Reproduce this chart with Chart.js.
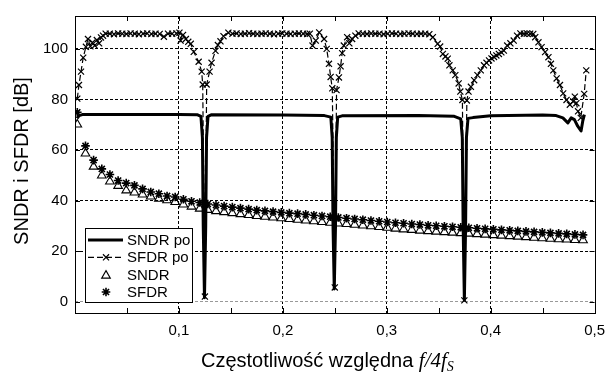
<!DOCTYPE html>
<html>
<head>
<meta charset="utf-8">
<script src="https://cdn.jsdelivr.net/npm/chart.js@4.4.1/dist/chart.umd.min.js"></script>
<style>
  html, body { margin: 0; padding: 0; background: #fff; }
  #wrap { width: 614px; height: 372px; }
</style>
</head>
<body>
<div id="wrap"><canvas id="chart" width="614" height="372"></canvas></div>
<script>
// SNDR po – thick line with three deep notches
const sndrPoX = [0.0020, 0.0040, 0.0070, 0.0500, 0.1000,
  0.1180, 0.1212, 0.1226, 0.1234, 0.1246, 0.1258, 0.1266, 0.1280, 0.1310,
  0.2000, 0.2400, 0.2462, 0.2475, 0.2483, 0.2495, 0.2507, 0.2515, 0.2528, 0.2570,
  0.3300, 0.3650, 0.3712, 0.3727, 0.3735, 0.3747, 0.3759, 0.3767, 0.3782, 0.3830,
  0.4000, 0.4500, 0.4630, 0.4695, 0.4743, 0.4775, 0.4806, 0.4838, 0.4870, 0.4886, 0.4902];
const sndrPoY = [72.5, 73.6, 74.0, 74.0, 74.0,
  73.9, 73.3, 65, 30, 1.5, 30, 65, 73.3, 73.9,
  73.8, 73.6, 73.0, 65, 30, 5, 30, 65, 73.0, 73.5,
  73.6, 73.3, 72.3, 65, 30, 0.5, 30, 65, 72.5, 72.8,
  73.5, 73.8, 73.6, 72.7, 70.7, 72.7, 72.0, 69.4, 67.5, 71.4, 74.0];

// SFDR po – dashed line with x markers
const sfdrPoX = [
  0.0022, 0.0038, 0.0058, 0.0079, 0.0105, 0.0125, 0.0148, 0.0168, 0.0190, 0.0210, 0.0232, 0.0250, 0.0270, 0.0295,
  0.0335, 0.0375, 0.0415, 0.0455, 0.0495, 0.0535, 0.0575, 0.0615, 0.0655, 0.0695, 0.0735, 0.0775, 0.0815, 0.0855, 0.0895, 0.0935, 0.0975,
  0.1005, 0.1016, 0.1040, 0.1067, 0.1090, 0.1114, 0.1143, 0.1190, 0.1219, 0.1229, 0.1250, 0.1267, 0.1295, 0.1314, 0.1352, 0.1375, 0.1400, 0.1429, 0.1476,
  0.1515, 0.1555, 0.1595, 0.1635, 0.1675, 0.1715, 0.1755, 0.1795, 0.1835, 0.1875, 0.1915, 0.1955, 0.1995, 0.2035, 0.2075, 0.2115, 0.2155, 0.2195, 0.2235, 0.2260,
  0.2286, 0.2317, 0.2350, 0.2397, 0.2422, 0.2444, 0.2460, 0.2476, 0.2500, 0.2517, 0.2540, 0.2556, 0.2571, 0.2587, 0.2619, 0.2640, 0.2667, 0.2698, 0.2730,
  0.2770, 0.2810, 0.2850, 0.2890, 0.2930, 0.2970, 0.3010, 0.3050, 0.3090, 0.3130, 0.3170, 0.3210, 0.3250, 0.3290, 0.3330, 0.3370, 0.3410,
  0.3444, 0.3490, 0.3514, 0.3540, 0.3565, 0.3587, 0.3603, 0.3635, 0.3660, 0.3692, 0.3708, 0.3728, 0.3747, 0.3771, 0.3787, 0.3810, 0.3841,
  0.3873, 0.3905, 0.3936, 0.3960, 0.3984, 0.4008, 0.4032, 0.4055, 0.4079, 0.4103, 0.4127, 0.4159, 0.4190, 0.4222, 0.4254, 0.4286,
  0.4320, 0.4350, 0.4380, 0.4410, 0.4429, 0.4460, 0.4490, 0.4524, 0.4556, 0.4580, 0.4603, 0.4635, 0.4667, 0.4698, 0.4730, 0.4762,
  0.4794, 0.4810, 0.4825, 0.4841, 0.4867, 0.4900, 0.4920];
const sfdrPoY = [
  80.3, 85.7, 91.0, 96.5, 100.8, 103.9, 101.0, 102.5, 101.3, 103.5, 102.2, 104.5, 105.2, 106.0,
  106.0, 105.8, 106.1, 106.0, 105.9, 106.1, 106.0, 105.8, 106.0, 106.1, 105.9, 106.0, 105.9, 104.8, 106.0, 106.0, 106.1,
  106.4, 103.3, 105.5, 103.9, 102.8, 102.0, 98.8, 94.9, 91.0, 85.9, 2.0, 85.9, 91.0, 94.5, 99.2, 101.5, 103.0, 105.0, 106.4,
  106.0, 106.1, 105.9, 106.0, 106.2, 106.0, 105.9, 106.0, 106.1, 106.0, 105.8, 106.0, 106.1, 106.0, 105.9, 106.0, 106.1, 106.0, 105.9, 106.0,
  101.3, 103.3, 106.5, 103.9, 100.0, 94.1, 88.9, 84.4, 5.6, 83.7, 88.7, 93.1, 98.3, 101.3, 104.6, 102.2, 103.9, 105.2, 106.1,
  106.0, 105.9, 106.1, 106.0, 106.0, 105.8, 106.0, 106.1, 106.0, 105.9, 106.0, 106.1, 106.0, 105.9, 106.0, 106.0, 105.8,
  104.6, 102.0, 100.9, 98.0, 97.0, 96.1, 93.5, 91.5, 89.6, 86.3, 83.1, 79.8, 0.5, 79.6, 83.1, 85.0, 87.6,
  89.6, 91.5, 93.5, 94.5, 95.4, 96.2, 96.8, 97.4, 98.0, 98.6, 99.3, 101.3, 102.2, 103.3, 105.2, 106.1,
  106.0, 106.1, 106.0, 105.9, 104.6, 102.6, 100.7, 98.7, 96.7, 94.1, 91.5, 88.3, 85.7, 82.4, 79.8, 77.9,
  79.2, 81.1, 78.5, 75.3, 72.7, 82.2, 91.5];

// SNDR / SFDR before correction – markers only
const freqX = [0.0022, 0.0101, 0.0179, 0.0258, 0.0336, 0.0415, 0.0493, 0.0572, 0.0650, 0.0729,
  0.0807, 0.0886, 0.0964, 0.1043, 0.1121, 0.1200, 0.1278, 0.1357, 0.1435, 0.1514,
  0.1592, 0.1671, 0.1749, 0.1828, 0.1906, 0.1985, 0.2063, 0.2142, 0.2220, 0.2299,
  0.2377, 0.2456, 0.2534, 0.2613, 0.2691, 0.2770, 0.2848, 0.2927, 0.3005, 0.3084,
  0.3162, 0.3241, 0.3319, 0.3398, 0.3476, 0.3555, 0.3633, 0.3712, 0.3790, 0.3869,
  0.3947, 0.4026, 0.4104, 0.4183, 0.4261, 0.4340, 0.4418, 0.4497, 0.4575, 0.4654,
  0.4732, 0.4811, 0.4889];
const sndrY = [70.1, 58.6, 53.4, 49.9, 47.5, 45.8, 44.0, 43.2, 42.4, 41.6,
  40.7, 40.1, 39.4, 38.4, 37.6, 36.8, 36.3, 35.8, 35.4, 35.0,
  34.6, 34.3, 33.9, 33.6, 33.3, 33.0, 32.7, 32.4, 32.1, 31.8,
  31.5, 31.2, 30.9, 30.7, 30.4, 30.1, 29.8, 29.5, 29.2, 28.9,
  28.6, 28.4, 28.1, 27.9, 27.7, 27.5, 27.3, 27.1, 26.9, 26.7,
  26.5, 26.3, 26.1, 25.9, 25.7, 25.5, 25.3, 25.1, 24.9, 24.7,
  24.6, 24.4, 24.3];
const sfdrY = [74.9, 61.6, 56.0, 52.5, 50.3, 47.9, 46.9, 46.0, 44.6, 43.4,
  42.7, 41.8, 41.4, 40.5, 39.7, 39.2, 38.6, 38.2, 37.8, 37.4,
  37.0, 36.6, 36.2, 35.9, 35.6, 35.3, 35.0, 34.8, 34.5, 34.2,
  33.9, 33.6, 33.3, 33.0, 32.7, 32.4, 32.1, 31.8, 31.5, 31.2,
  31.0, 30.7, 30.5, 30.2, 30.0, 29.8, 29.6, 29.4, 29.2, 29.0,
  28.8, 28.6, 28.4, 28.2, 28.0, 27.8, 27.6, 27.4, 27.2, 27.0,
  26.8, 26.6, 26.4];

const xTickValues = [0.1, 0.2, 0.3, 0.4, 0.5];
const xTickLabels = ['0,1', '0,2', '0,3', '0,4', '0,5'];
const yTickValues = [0, 20, 40, 60, 80, 100];
const yTickLabels = ['0', '20', '40', '60', '80', '100'];
const seriesNames = ['SNDR po', 'SFDR po', 'SNDR', 'SFDR'];

const FONT = "'Liberation Sans', Arial, sans-serif";
Chart.defaults.font.family = FONT;
Chart.defaults.color = '#000';

function pts(xs, ys) {
    return xs.map((x, i) => ({ x: x, y: ys[i] }));
}

function near(v, arr) {
    return arr.findIndex(t => Math.abs(t - v) < 1e-6);
}

// frame, inward ticks, legend and axis titles
const decorations = {
    id: 'decorations',
    afterDraw(chart) {
        const ctx = chart.ctx;
        const a = chart.chartArea;
        const xs = chart.scales.x, ys = chart.scales.y;
        ctx.save();
        ctx.strokeStyle = '#000';
        ctx.lineWidth = 1;
        ctx.setLineDash([]);
        ctx.strokeRect(Math.round(a.left) + 0.5, Math.round(a.top) + 0.5,
            Math.round(a.right - a.left), Math.round(a.bottom - a.top));

        // tick marks pointing into the plot
        ctx.beginPath();
        xs.ticks.forEach(t => {
            if (t.value <= 0.001 || t.value >= 0.499) return;
            const px = Math.round(xs.getPixelForValue(t.value)) + 0.5;
            ctx.moveTo(px, a.bottom); ctx.lineTo(px, a.bottom - 5);
            ctx.moveTo(px, a.top); ctx.lineTo(px, a.top + 5);
        });
        ys.ticks.forEach(t => {
            const py = Math.round(ys.getPixelForValue(t.value)) + 0.5;
            ctx.moveTo(a.left, py); ctx.lineTo(a.left + 5, py);
            ctx.moveTo(a.right, py); ctx.lineTo(a.right - 5, py);
        });
        ctx.stroke();

        // legend box
        const lb = { left: 85.5, top: 228.5, right: 192.5, bottom: 302.5 };
        ctx.fillStyle = '#fff';
        ctx.fillRect(lb.left, lb.top, lb.right - lb.left, lb.bottom - lb.top);
        ctx.strokeRect(lb.left, lb.top, lb.right - lb.left, lb.bottom - lb.top);
        const rowY = [240, 257.3, 274.6, 292];
        const sx0 = 88, sx1 = 123, sxm = 106, tx = 127;
        ctx.font = '15px ' + FONT;
        ctx.textBaseline = 'middle';
        ctx.textAlign = 'left';
        ctx.fillStyle = '#000';
        seriesNames.forEach((name, i) => ctx.fillText(name, tx, rowY[i] + 1));

        ctx.lineWidth = 3;
        ctx.beginPath(); ctx.moveTo(sx0, rowY[0]); ctx.lineTo(sx1, rowY[0]); ctx.stroke();
        ctx.lineWidth = 1.2;
        ctx.setLineDash([6, 3]);
        ctx.beginPath(); ctx.moveTo(sx0, rowY[1]); ctx.lineTo(sx1, rowY[1]); ctx.stroke();
        ctx.setLineDash([]);
        ctx.fillStyle = 'rgba(0,0,0,0)';
        Chart.helpers.drawPoint(ctx, { pointStyle: 'crossRot', radius: 4.3, rotation: 0, borderWidth: 1.2 }, sxm, rowY[1]);
        ctx.lineWidth = 1.1;
        Chart.helpers.drawPoint(ctx, { pointStyle: 'triangle', radius: 5, rotation: 0, borderWidth: 1.1 }, sxm, rowY[2] + 1);
        ctx.lineWidth = 1.6;
        Chart.helpers.drawPoint(ctx, { pointStyle: 'star', radius: 4.3, rotation: 0, borderWidth: 1.6 }, sxm, rowY[3]);

        // y axis title
        ctx.fillStyle = '#000';
        ctx.save();
        ctx.translate(22, 161);
        ctx.rotate(-Math.PI / 2);
        ctx.font = '20px ' + FONT;
        ctx.textAlign = 'center';
        ctx.textBaseline = 'middle';
        ctx.fillText('SNDR i SFDR [dB]', 0, 0);
        ctx.restore();

        // x axis title with italic f/4f_S
        ctx.textAlign = 'left';
        ctx.textBaseline = 'alphabetic';
        let x = 201;
        const base = 367;
        ctx.font = '20px ' + FONT;
        const t1 = 'Częstotliwość względna ';
        ctx.fillText(t1, x, base);
        x += ctx.measureText(t1).width;
        ctx.font = "italic 21px 'Liberation Serif', 'Times New Roman', serif";
        ctx.fillText('f/4f', x, base);
        x += ctx.measureText('f/4f').width;
        ctx.font = "italic 14px 'Liberation Serif', 'Times New Roman', serif";
        ctx.fillText('S', x, base + 4);
        ctx.restore();
    }
};

new Chart(document.getElementById('chart'), {
    type: 'line',
    data: {
        datasets: [
            {
                label: seriesNames[0],
                data: pts(sndrPoX, sndrPoY),
                borderColor: '#000',
                borderWidth: 3,
                borderJoinStyle: 'round',
                pointRadius: 0,
                tension: 0
            },
            {
                label: seriesNames[1],
                data: pts(sfdrPoX, sfdrPoY),
                borderColor: '#000',
                borderWidth: 1.2,
                borderDash: [6, 3],
                pointStyle: 'crossRot',
                pointRadius: 4.3,
                pointBorderWidth: 1.2,
                pointBorderColor: '#000',
                pointBackgroundColor: 'rgba(0,0,0,0)',
                tension: 0
            },
            {
                label: seriesNames[2],
                data: pts(freqX, sndrY),
                showLine: false,
                pointStyle: 'triangle',
                pointRadius: 5,
                pointBorderWidth: 1.1,
                pointBorderColor: '#000',
                pointBackgroundColor: 'rgba(0,0,0,0)'
            },
            {
                label: seriesNames[3],
                data: pts(freqX, sfdrY),
                showLine: false,
                pointStyle: 'star',
                pointRadius: 4.3,
                pointBorderWidth: 1.6,
                pointBorderColor: '#000',
                pointBackgroundColor: 'rgba(0,0,0,0)'
            }
        ]
    },
    options: {
        responsive: false,
        animation: false,
        events: [],
        layout: { padding: { left: 0, right: 14, top: 12, bottom: 0 } },
        plugins: { legend: { display: false }, tooltip: { enabled: false } },
        scales: {
            x: {
                type: 'linear',
                min: 0,
                max: 0.5,
                afterFit: (s) => { s.height = 59; },
                ticks: {
                    stepSize: 0.05,
                    includeBounds: false,
                    autoSkip: false,
                    maxRotation: 0,
                    padding: 9,
                    font: { size: 15 },
                    callback: (v) => { const i = near(v, xTickValues); return i >= 0 ? xTickLabels[i] : ''; }
                },
                grid: {
                    drawTicks: false,
                    lineWidth: 1,
                    color: (c) => {
                        const v = c.tick ? c.tick.value : 0;
                        return (near(v, xTickValues) >= 0 && v < 0.499) ? '#000' : 'rgba(0,0,0,0)';
                    }
                },
                border: { display: false, dash: [3, 2] }
            },
            y: {
                type: 'linear',
                min: -4.5,
                max: 113,
                afterFit: (s) => { s.width = 75; },
                ticks: {
                    stepSize: 20,
                    includeBounds: false,
                    padding: 7,
                    font: { size: 15 },
                    callback: (v) => { const i = near(v, yTickValues); return i >= 0 ? yTickLabels[i] : ''; }
                },
                grid: {
                    drawTicks: false,
                    lineWidth: 1,
                    color: (c) => (c.tick && c.tick.value === 0) ? '#999' : '#000'
                },
                border: { display: false, dash: [3, 2] }
            }
        }
    },
    plugins: [decorations]
});
</script>
</body>
</html>
